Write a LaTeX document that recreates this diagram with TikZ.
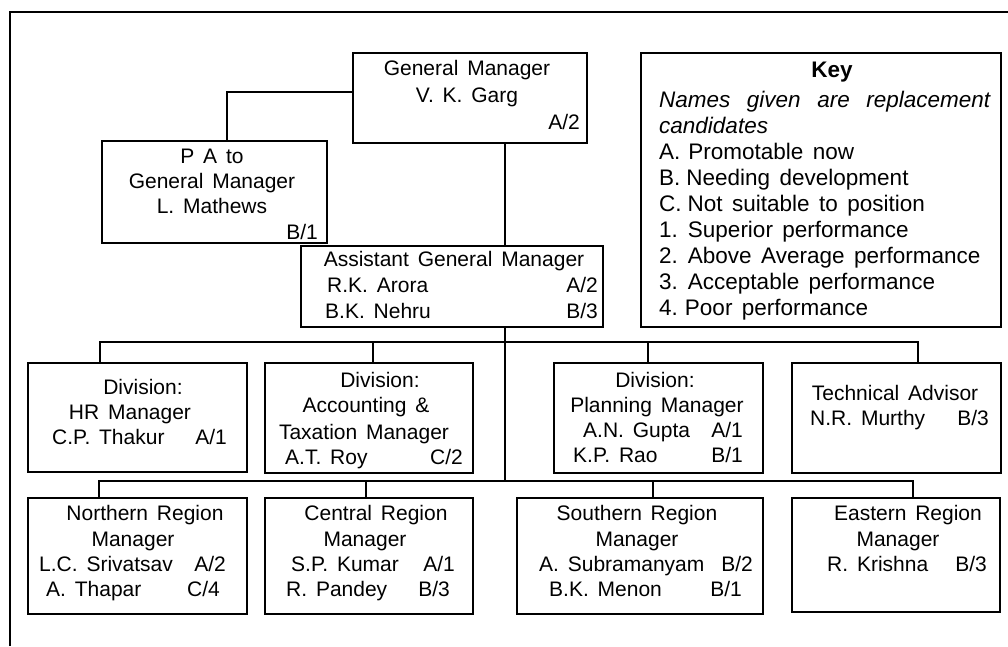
\documentclass[tikz,border=0pt]{standalone}
\usepackage{fontspec}
\setmainfont{Liberation Sans}
\usetikzlibrary{fit}
\newcommand\fsbox{\fontsize{21}{25}\selectfont\spaceskip=0.42em\relax}
\newcommand\fskey{\fontsize{22.5}{26}\selectfont\spaceskip=0.42em\relax}
\tikzset{
  box/.style={draw, line width=2pt, rectangle, inner sep=0pt},
  conn/.style={line width=2pt},
  tx/.style={inner sep=0pt, anchor=base, font=\fsbox},
  tl/.style={tx, anchor=base west},
  tr/.style={tx, anchor=base east},
  kl/.style={inner sep=0pt, anchor=base west, font=\fskey},
}
\newcommand\obox[5]{\node[box, fit={(#2,#3) (#4,#5)}] (#1) {};}
\begin{document}
\begin{tikzpicture}[x=1pt,y=-1pt]
\useasboundingbox (0,0) rectangle (1008,646);
% outer frame
\draw[conn] (10,646) -- (10,12) -- (1008,12);
% boxes
\obox{gm}{353}{53}{587}{143}
\obox{pa}{102}{141}{327}{243}
\obox{agm}{301}{246}{603}{327}
\obox{key}{641}{53}{1001}{327}
\obox{hr}{28}{363}{247}{472}
\obox{acct}{265}{363}{473}{473}
\obox{plan}{554}{363}{763}{473}
\obox{tech}{792}{363}{1001}{473}
\obox{north}{28}{498}{247}{614}
\obox{central}{265}{498}{473}{614}
\obox{south}{517}{498}{763}{614}
\obox{east}{792}{498}{1000}{612}
% connectors
\coordinate (pajoin) at (227,92);
\draw[conn] (gm.west |- pajoin) -- (pajoin) -- (pajoin |- pa.north);
\coordinate (trunk) at (505,481);
\draw[conn] (gm.south -| trunk) -- (agm.north -| trunk);
\draw[conn] (agm.south -| trunk) -- (trunk);
\coordinate (ua) at (100,342);
\coordinate (ub) at (373,342);
\coordinate (uc) at (648,342);
\coordinate (ud) at (918,342);
\draw[conn] (ua |- hr.north) -- (ua) -- (ud) -- (ud |- tech.north);
\draw[conn] (ub) -- (ub |- acct.north);
\draw[conn] (uc) -- (uc |- plan.north);
\coordinate (la) at (99,481);
\coordinate (lb) at (366,481);
\coordinate (lc) at (653,481);
\coordinate (ld) at (913,481);
\draw[conn] (la |- north.north) -- (la) -- (ld) -- (ld |- east.north);
\draw[conn] (lb) -- (lb |- central.north);
\draw[conn] (lc) -- (lc |- south.north);
% GM
\node[tx] (gm1) at (467,75) {General Manager};
\node[tx] (gm2) at (467,102) {V. K. Garg};
\node[tr] (gm3) at (580,129) {A/2};
% PA
\node[tx] (pa1) at (212,163) {P A to};
\node[tx] (pa2) at (212,188) {General Manager};
\node[tx] (pa3) at (212,213) {L. Mathews};
\node[tr] (pa4) at (318,239) {B/1};
% AGM
\node[tx] (agm1) at (454,266) {Assistant General Manager};
\node[tl] (agm2) at (327,292) {R.K. Arora};
\node[tr] (agm3) at (598,292) {A/2};
\node[tl] (agm4) at (325,318) {B.K. Nehru};
\node[tr] (agm5) at (598,318) {B/3};
% Key
\node[inner sep=0pt, anchor=base, font=\fskey\bfseries] (k0) at (832,77) {Key};
\node[kl] (k1) at (659,107) {\makebox[331pt][l]{\itshape Names\hfill given\hfill are\hfill replacement}};
\node[kl] (k2) at (659,133) {\itshape candidates};
\node[kl] (k3) at (659,159) {A.\hspace{8pt}Promotable now};
\node[kl] (k4) at (659,185) {B.\hspace{6pt}Needing development};
\node[kl] (k5) at (659,211) {C.\hspace{6pt}Not suitable to position};
\node[kl] (k6) at (659,237) {1.\hspace{10pt}Superior performance};
\node[kl] (k7) at (659,263) {2.\hspace{10pt}Above Average performance};
\node[kl] (k8) at (659,289) {3.\hspace{10pt}Acceptable performance};
\node[kl] (k9) at (659,315) {4.\hspace{7pt}Poor performance};
% HR
\node[tx] (hr1) at (143,394) {Division:};
\node[tx] (hr2) at (130,419) {HR Manager};
\node[tl] (hr3) at (52,444) {C.P. Thakur};
\node[tr] (hr4) at (227,444) {A/1};
% Accounting
\node[tx] (ac1) at (380,387) {Division:};
\node[tx] (ac2) at (366,412) {Accounting \&};
\node[tx] (ac3) at (364,439) {Taxation Manager};
\node[tl] (ac4) at (285,464) {A.T. Roy};
\node[tr] (ac5) at (463,464) {C/2};
% Planning
\node[tx] (pl1) at (655,387) {Division:};
\node[tx] (pl2) at (657,412) {Planning Manager};
\node[tl] (pl3) at (583,437) {A.N. Gupta};
\node[tr] (pl4) at (743,437) {A/1};
\node[tl] (pl5) at (573,462) {K.P. Rao};
\node[tr] (pl6) at (743,462) {B/1};
% Technical
\node[tx] (te1) at (895,400) {Technical Advisor};
\node[tl] (te2) at (810,425) {N.R. Murthy};
\node[tr] (te3) at (989,425) {B/3};
% Northern
\node[tx] (no1) at (145,520) {Northern Region};
\node[tx] (no2) at (133,546) {Manager};
\node[tl] (no3) at (39,571) {L.C. Srivatsav};
\node[tr] (no4) at (226,571) {A/2};
\node[tl] (no5) at (46,596) {A. Thapar};
\node[tr] (no6) at (220,596) {C/4};
% Central
\node[tx] (ce1) at (376,520) {Central Region};
\node[tx] (ce2) at (365,546) {Manager};
\node[tl] (ce3) at (291,571) {S.P. Kumar};
\node[tr] (ce4) at (455,571) {A/1};
\node[tl] (ce5) at (286,596) {R. Pandey};
\node[tr] (ce6) at (450,596) {B/3};
% Southern
\node[tx] (so1) at (637,520) {Southern Region};
\node[tx] (so2) at (637,546) {Manager};
\node[tl] (so3) at (539,571) {A. Subramanyam};
\node[tr] (so4) at (753,571) {B/2};
\node[tl] (so5) at (549,596) {B.K. Menon};
\node[tr] (so6) at (742,596) {B/1};
% Eastern
\node[tx] (ea1) at (908,520) {Eastern Region};
\node[tx] (ea2) at (898,546) {Manager};
\node[tl] (ea3) at (827,571) {R. Krishna};
\node[tr] (ea4) at (987,571) {B/3};
\end{tikzpicture}
\end{document}
